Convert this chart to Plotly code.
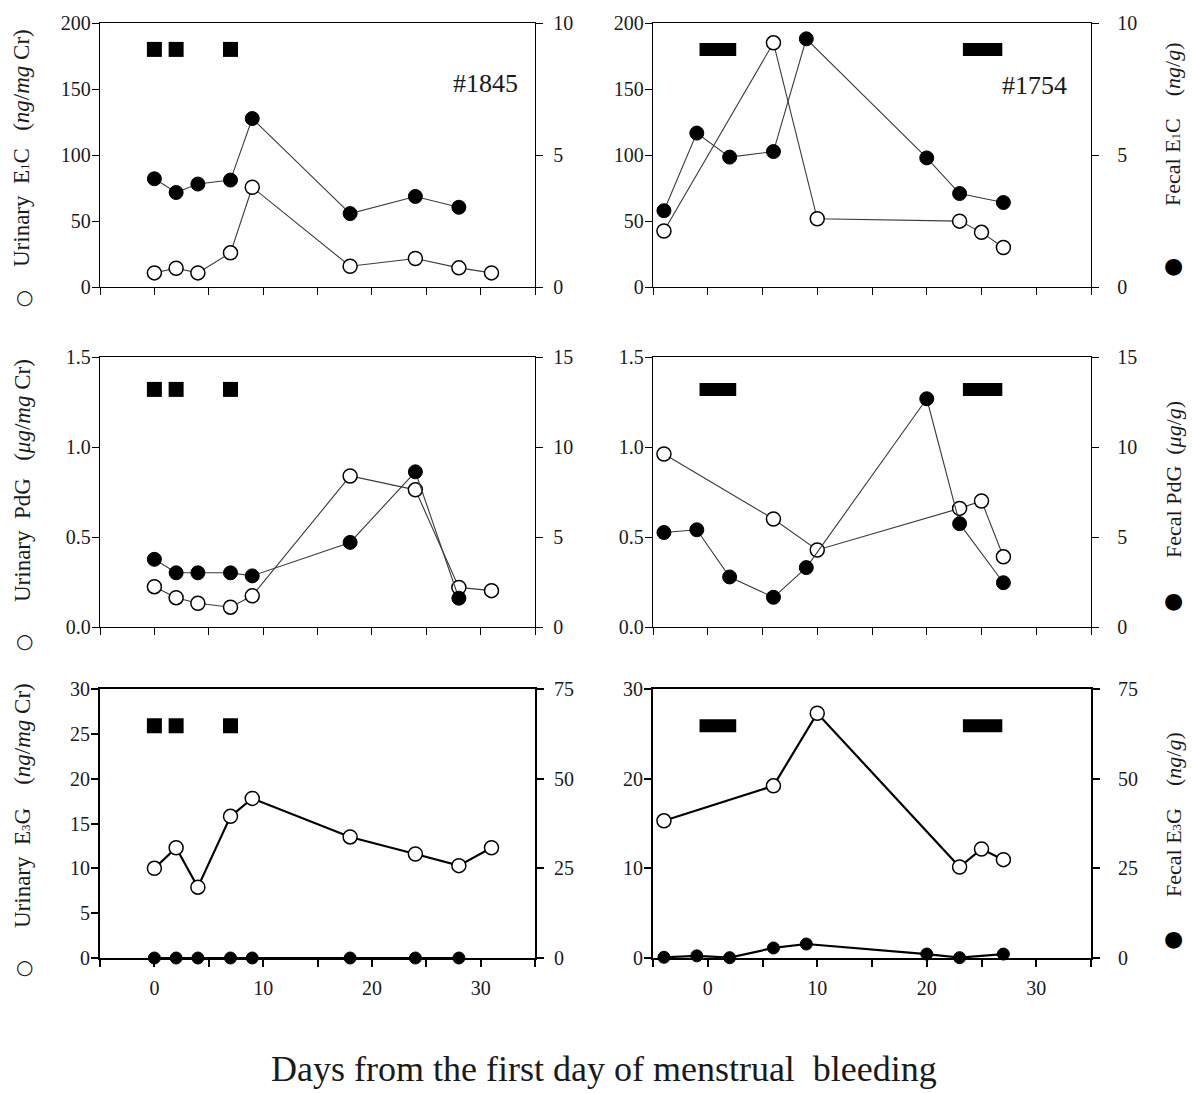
import plotly.graph_objects as go

# ---------------- data ----------------
days_1845_urine = [0, 2, 4, 7, 9, 18, 24, 28, 31]
days_1845_feces = [0, 2, 4, 7, 9, 18, 24, 28]
days_1754_urine = [-4, 6, 10, 23, 25, 27]
days_1754_feces = [-4, -1, 2, 6, 9, 20, 23, 27]

urinary_e1c_1845 = [10.7, 14.2, 10.7, 25.9, 75.6, 15.7, 21.6, 14.5, 10.7]
fecal_e1c_1845 = [4.10, 3.58, 3.90, 4.05, 6.38, 2.78, 3.43, 3.02]
urinary_pdg_1845 = [0.224, 0.163, 0.132, 0.110, 0.173, 0.839, 0.762, 0.220, 0.202]
fecal_pdg_1845 = [3.76, 3.01, 3.01, 3.01, 2.84, 4.70, 8.62, 1.60]
urinary_e3g_1845 = [10.0, 12.3, 7.9, 15.8, 17.8, 13.5, 11.6, 10.3, 12.3]
fecal_e3g_1845 = [0.0, 0.0, 0.0, 0.0, 0.0, 0.0, 0.0, 0.0]

urinary_e1c_1754 = [42.4, 185.0, 51.7, 49.9, 41.4, 29.9]
fecal_e1c_1754 = [2.89, 5.83, 4.92, 5.13, 9.40, 4.89, 3.54, 3.20]
urinary_pdg_1754 = [0.961, 0.600, 0.428, 0.659, 0.700, 0.390]
fecal_pdg_1754 = [5.25, 5.40, 2.78, 1.65, 3.30, 12.68, 5.74, 2.46]
urinary_e3g_1754 = [15.3, 19.2, 27.3, 10.15, 12.16, 10.97]
fecal_e3g_1754 = [0.2, 0.6, 0.1, 2.8, 3.9, 1.1, 0.1, 1.1]

bleeding_days_1845 = [0, 2, 7]
bleeding_periods_1754 = [(-0.75, 2.6), (23.3, 26.9)]

x_tick_values = [-5, 0, 5, 10, 15, 20, 25, 30, 35]
x_tick_labels = ["", "0", "", "10", "", "20", "", "30", ""]

# ---------------- layout geometry / style ----------------
W, H = 1192, 1093
FONT = "Liberation Serif, Times New Roman, serif"
TXT = "#1a1a1a"
col_dom = [[100 / W, 535 / W], [653 / W, 1091 / W]]
row_px = [(23, 287), (357, 627), (689, 958)]
row_dom = [[1 - b / H, 1 - t / H] for t, b in row_px]

E1 = "E<span style='font-size:13px'>1</span>C"
E3 = "E<span style='font-size:13px'>3</span>G"
rows = [
    dict(urine=[urinary_e1c_1845, urinary_e1c_1754], feces=[fecal_e1c_1845, fecal_e1c_1754],
         lrange=[0, 200], ldtick=[50, 50], rrange=[0, 10], rdtick=5, fmt="",
         level=180, thick=False,
         ltitle="Urinary  " + E1 + "   (<i>ng</i>/<i>mg</i> Cr)",
         rtitle="Fecal " + E1 + "    (<i>ng</i>/<i>g</i>)",
         ltc=148, lsym=297, rtc=124, rsym=265),
    dict(urine=[urinary_pdg_1845, urinary_pdg_1754], feces=[fecal_pdg_1845, fecal_pdg_1754],
         lrange=[0, 1.5], ldtick=[0.5, 0.5], rrange=[0, 15], rdtick=5, fmt=".1f",
         level=1.32, thick=False,
         ltitle="Urinary  PdG   (<i>μg</i>/<i>mg</i> Cr)",
         rtitle="Fecal PdG  (<i>μg</i>/<i>g</i>)",
         ltc=481, lsym=641, rtc=480, rsym=600),
    dict(urine=[urinary_e3g_1845, urinary_e3g_1754], feces=[fecal_e3g_1845, fecal_e3g_1754],
         lrange=[0, 30], ldtick=[5, 10], rrange=[0, 75], rdtick=25, fmt="",
         level=25.9, thick=True,
         ltitle="Urinary  " + E3 + "    (<i>ng</i>/<i>mg</i> Cr)",
         rtitle="Fecal " + E3 + "    (<i>ng</i>/<i>g</i>)",
         ltc=806, lsym=967, rtc=815, rsym=938),
]
days_u = [days_1845_urine, days_1754_urine]
days_f = [days_1845_feces, days_1754_feces]

fig = go.Figure()
layout = dict(template="none", width=W, height=H, margin=dict(l=0, r=0, t=0, b=0, pad=0),
              paper_bgcolor="white", plot_bgcolor="white", showlegend=False,
              font=dict(family=FONT, color=TXT, size=20))
shapes, annotations = [], []

for r, spec in enumerate(rows):
    lw_axis = 2.2 if spec["thick"] else 1.4
    lw_line = 2.2 if spec["thick"] else 1.1
    line_col = "#000000" if spec["thick"] else "#3a3a3a"
    for c in range(2):
        i = r * 2 + c + 1
        j = i + 6
        xa, ya, yb = f"x{i}", f"y{i}", f"y{j}"
        # open circles: urinary (left axis)
        fig.add_trace(go.Scatter(
            x=days_u[c], y=spec["urine"][c], xaxis=xa, yaxis=ya, mode="lines+markers",
            line=dict(color=line_col, width=lw_line), cliponaxis=False,
            marker=dict(symbol="circle", size=14, color="white",
                        line=dict(color="#000", width=1.5))))
        # filled circles: fecal (right axis)
        fig.add_trace(go.Scatter(
            x=days_f[c], y=spec["feces"][c], xaxis=xa, yaxis=yb, mode="lines+markers",
            line=dict(color=line_col, width=lw_line), cliponaxis=False,
            marker=dict(symbol="circle", size=12 if spec["thick"] else 14, color="#000",
                        line=dict(color="#000", width=1))))
        if c == 0:
            fig.add_trace(go.Scatter(
                x=bleeding_days_1845, y=[spec["level"]] * len(bleeding_days_1845),
                xaxis=xa, yaxis=ya, mode="markers", cliponaxis=False,
                marker=dict(symbol="square", size=15, color="#000", line=dict(width=0))))
        else:
            for a, b in bleeding_periods_1754:
                shapes.append(dict(type="rect", xref=xa, yref=ya, x0=a, x1=b,
                                   ysizemode="pixel", yanchor=spec["level"], y0=-6.5, y1=6.5,
                                   fillcolor="#000", line=dict(width=0), layer="above"))
        axfont = dict(family=FONT, color=TXT, size=20)
        layout[f"xaxis{i}"] = dict(
            domain=col_dom[c], anchor=ya, range=[-5, 35], tickmode="array",
            tickvals=x_tick_values, ticktext=x_tick_labels, showticklabels=(r == 2),
            ticks="outside", ticklen=7, tickwidth=lw_axis, tickcolor="#000",
            showline=True, linecolor="#000", linewidth=lw_axis, mirror=True,
            showgrid=False, zeroline=False, tickfont=axfont, ticklabelstandoff=4,
            automargin=False)
        layout[f"yaxis{i}"] = dict(
            domain=row_dom[r], anchor=xa, range=spec["lrange"], dtick=spec["ldtick"][c],
            tick0=0, tickformat=spec["fmt"], ticks="outside", ticklen=7, tickwidth=lw_axis,
            tickcolor="#000", showline=True, linecolor="#000", linewidth=lw_axis,
            showgrid=False, zeroline=False, tickfont=axfont, ticklabelstandoff=-3,
            automargin=False)
        layout[f"yaxis{j}"] = dict(
            overlaying=ya, anchor=xa, side="right", range=spec["rrange"],
            dtick=spec["rdtick"], tick0=0, ticks="outside", ticklen=7, tickwidth=lw_axis,
            tickcolor="#000", showline=True, linecolor="#000", linewidth=lw_axis,
            showgrid=False, zeroline=False, tickfont=axfont,
            ticklabelstandoff=6 if c == 0 else 14, automargin=False)
    # axis titles
    annotations.append(dict(xref="paper", yref="paper", x=22 / W, y=1 - spec["ltc"] / H,
                            text=spec["ltitle"], textangle=-90, showarrow=False,
                            xanchor="center", yanchor="middle",
                            font=dict(family=FONT, size=23, color=TXT)))
    annotations.append(dict(xref="paper", yref="paper", x=24 / W, y=1 - spec["lsym"] / H,
                            text="○", showarrow=False, xanchor="center", yanchor="middle",
                            font=dict(family="DejaVu Sans", size=20, color=TXT)))
    annotations.append(dict(xref="paper", yref="paper", x=1173 / W, y=1 - spec["rtc"] / H,
                            text=spec["rtitle"], textangle=-90, showarrow=False,
                            xanchor="center", yanchor="middle",
                            font=dict(family=FONT, size=22, color=TXT)))
    annotations.append(dict(xref="paper", yref="paper", x=1173 / W, y=1 - spec["rsym"] / H,
                            text="●", showarrow=False, xanchor="center", yanchor="middle",
                            font=dict(family="DejaVu Sans", size=22, color="#000")))

annotations.append(dict(xref="x1", yref="y1", x=33.6, y=154, text="#1845", showarrow=False,
                        xanchor="right", yanchor="middle",
                        font=dict(family=FONT, size=26, color=TXT)))
annotations.append(dict(xref="x2", yref="y2", x=33.0, y=153, text="#1754", showarrow=False,
                        xanchor="right", yanchor="middle",
                        font=dict(family=FONT, size=26, color=TXT)))
annotations.append(dict(xref="paper", yref="paper", x=604 / W, y=0.002,
                        text="Days from the first day of menstrual  bleeding", showarrow=False,
                        xanchor="center", yanchor="bottom",
                        font=dict(family=FONT, size=36, color=TXT)))

layout["shapes"] = shapes
layout["annotations"] = annotations
fig.update_layout(**layout)
fig.write_html("out.html")
